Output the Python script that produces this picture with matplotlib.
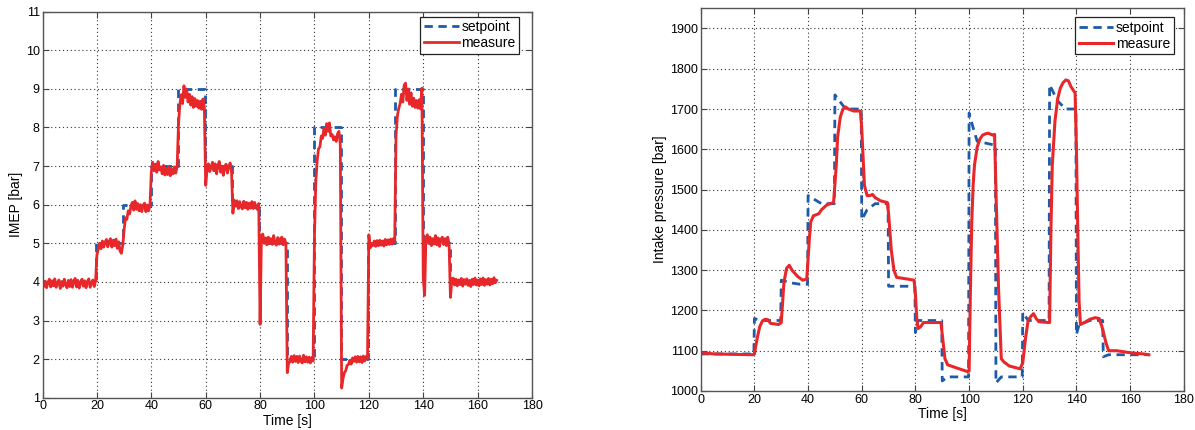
import numpy as np
import matplotlib
matplotlib.use('Agg')
import matplotlib.pyplot as plt

plt.rcParams['font.family'] = ['Liberation Sans', 'DejaVu Sans']

# IMEP setpoint (steps)
imep_sp_time = [0, 19.75, 29.75, 39.75, 49.75, 59.75, 69.75, 79.75, 89.75, 99.75, 109.75, 119.75, 129.75, 139.75, 149.75, 167]
imep_sp_value = [4, 5, 6, 7, 9, 7, 6, 5, 2, 8, 2, 5, 9, 5, 4, 4]

# IMEP measure, sampled every 0.5 s, one row per 10 s
imep_meas_rows = [
    [4.06, 3.88, 4.02, 3.85, 3.99, 4.07, 3.87, 4.03, 3.90, 4.08, 3.86, 3.97, 4.05, 3.83, 4.01, 3.89, 4.07, 3.92, 3.85, 4.04],
    [3.88, 4.06, 3.86, 4.02, 4.09, 3.87, 4.04, 3.84, 3.99, 4.07, 3.89, 4.03, 3.85, 4.01, 4.08, 3.86, 3.98, 4.05, 3.88, 4.02],
    [4.70, 4.85, 5.00, 4.86, 5.06, 4.90, 5.03, 5.10, 4.91, 5.05, 5.12, 4.90, 5.08, 4.94, 5.11, 4.87, 5.04, 4.80, 4.74, 4.95],
    [5.35, 5.66, 5.62, 5.84, 5.76, 5.96, 6.06, 5.86, 6.10, 5.88, 6.03, 5.84, 6.00, 5.82, 5.98, 6.04, 5.82, 5.99, 5.84, 5.97],
    [6.85, 7.10, 6.88, 7.05, 6.84, 7.12, 6.90, 6.98, 6.80, 7.02, 6.77, 6.94, 6.78, 6.97, 6.75, 6.93, 6.80, 6.98, 6.82, 7.00],
    [8.10, 8.60, 8.85, 8.62, 9.08, 8.78, 9.00, 8.66, 8.86, 8.58, 8.80, 8.52, 8.75, 8.55, 8.70, 8.50, 8.68, 8.47, 8.74, 8.52],
    [6.50, 6.90, 7.06, 6.86, 6.98, 7.10, 6.88, 7.06, 6.80, 7.02, 7.12, 6.84, 7.00, 6.76, 6.98, 7.05, 6.82, 7.00, 7.08, 6.86],
    [5.78, 6.12, 5.96, 6.10, 5.90, 6.08, 5.95, 5.89, 6.09, 5.92, 6.06, 5.88, 6.04, 5.91, 6.08, 5.90, 6.06, 5.92, 5.88, 6.03],
    [2.90, 5.20, 5.24, 5.00, 5.14, 4.96, 5.16, 4.99, 5.12, 4.97, 5.20, 5.00, 4.95, 5.15, 4.98, 5.12, 5.16, 4.96, 5.11, 5.00],
    [1.65, 1.90, 1.93, 2.07, 1.92, 2.09, 1.94, 2.07, 1.91, 2.08, 1.95, 1.90, 2.10, 1.93, 2.06, 1.92, 2.05, 1.90, 2.04, 1.95],
    [5.20, 6.60, 7.15, 7.45, 7.50, 7.78, 7.72, 7.98, 7.80, 8.10, 7.90, 8.12, 7.78, 7.82, 7.68, 7.76, 7.64, 7.84, 7.90, 7.55],
    [1.25, 1.50, 1.65, 1.70, 1.84, 1.86, 1.97, 1.87, 2.03, 1.94, 2.06, 1.92, 2.07, 1.93, 2.06, 1.91, 2.08, 1.95, 2.07, 2.02],
    [5.22, 4.88, 5.00, 4.94, 5.06, 4.92, 5.07, 4.94, 5.08, 4.95, 5.06, 4.93, 5.10, 4.96, 5.09, 4.97, 5.11, 4.98, 5.12, 5.03],
    [7.80, 8.30, 8.50, 8.62, 8.86, 8.66, 9.10, 9.15, 8.70, 9.00, 8.60, 8.90, 8.55, 8.76, 8.52, 8.70, 8.50, 8.72, 8.48, 9.02],
    [4.10, 3.65, 5.15, 5.22, 5.00, 5.16, 4.94, 5.12, 4.98, 5.20, 4.96, 5.14, 4.92, 5.10, 5.16, 4.97, 5.12, 4.94, 5.16, 4.98],
    [3.60, 4.02, 4.10, 3.92, 4.07, 3.90, 4.05, 3.93, 4.09, 3.89, 4.06, 3.94, 4.08, 3.91, 4.04, 3.88, 4.07, 3.93, 4.10, 3.92],
    [4.05, 3.90, 4.08, 3.93, 4.10, 3.91, 4.06, 3.94, 4.09, 3.92, 4.07, 3.95, 4.11, 3.98, 4.04],
]

# intake pressure setpoint
press_sp_time = [0, 19.8, 20, 22, 29.8, 30, 34, 37, 39.8, 40, 45, 49.8, 50, 54, 59.8, 60, 62, 65, 69.8, 70,
                 79.8, 80, 81, 89.8, 90, 92, 99.8, 100, 101, 103, 109.8, 110, 112, 119.8, 120, 122, 129.8,
                 130, 133, 136, 139.8, 140, 141, 145, 149.8, 150, 152, 167]
press_sp_value = [1092, 1092, 1180, 1175, 1175, 1275, 1268, 1265, 1265, 1485, 1465, 1465, 1735, 1700, 1700, 1425, 1450, 1465, 1465, 1260,
                  1260, 1145, 1175, 1175, 1025, 1035, 1035, 1690, 1665, 1620, 1610, 1020, 1035, 1035, 1195, 1175, 1175,
                  1760, 1720, 1700, 1700, 1140, 1165, 1175, 1175, 1085, 1090, 1090]

# intake pressure measure
press_meas_time = [0, 5, 19.5, 20, 21, 22, 23, 24, 25, 26, 29, 30, 31, 32, 33, 34, 36, 38, 39.5, 40.5, 41, 42, 44, 45, 47,
                   49.5, 50.5, 51, 52, 53, 54, 55, 57, 59.5, 60, 61, 62, 63, 64, 65, 67, 69.5, 70, 71, 72, 73, 75,
                   77, 79.5, 80, 80.5, 81, 82, 83, 86, 89.5, 90, 91, 92, 95, 99.5, 100, 100.5, 101, 101.5, 102, 103, 104,
                   105, 106, 107, 109, 109.5, 110, 111, 112, 113, 115, 119, 120, 121, 122, 123, 124, 125, 126, 129.5,
                   130, 130.5, 131, 132, 133, 134, 135, 136, 137, 138, 139, 139.5, 140, 140.5, 141, 141.5, 143, 145,
                   147, 148.5, 149.5, 151, 152, 155, 160, 165, 167]
press_meas_value = [1095, 1092, 1090, 1092, 1130, 1160, 1174, 1178, 1177, 1168, 1165, 1170, 1270, 1305, 1312, 1300, 1285, 1275, 1278, 1380, 1420, 1435, 1440, 1450, 1462,
                    1468, 1560, 1630, 1680, 1700, 1705, 1700, 1695, 1695, 1650, 1510, 1485, 1485, 1488, 1480, 1472, 1468, 1440, 1350, 1300, 1282, 1280,
                    1278, 1275, 1240, 1180, 1155, 1160, 1170, 1170, 1170, 1140, 1080, 1065, 1058, 1048, 1050, 1250, 1420, 1510, 1560, 1605, 1625,
                    1635, 1638, 1640, 1635, 1637, 1500, 1250, 1080, 1072, 1062, 1055, 1070, 1130, 1175, 1185, 1192, 1180, 1172, 1170,
                    1170, 1400, 1560, 1670, 1725, 1752, 1765, 1772, 1770, 1755, 1745, 1740, 1600, 1400, 1220, 1165, 1170, 1178,
                    1182, 1180, 1160, 1120, 1100, 1100, 1095, 1092, 1090]

imep_meas = np.concatenate([np.array(r) for r in imep_meas_rows])
imep_time = np.arange(len(imep_meas)) * 0.5

red = '#e8272a'
blue = '#1d5aa8'


def style_axes(ax, anchor):
    ax.grid(True, linestyle=(0, (1, 2.5)), color='#333333', linewidth=0.8)
    ax.tick_params(direction='in', top=True, right=True, labelsize=9, length=4,
                   color='#444444', pad=2)
    for s in ax.spines.values():
        s.set_color('#555555')
        s.set_linewidth(1.0)
    ax.set_xlim(0, 180)
    ax.set_xticks(range(0, 181, 20))
    ax.set_xlabel('Time [s]', fontsize=10, labelpad=1)
    leg = ax.legend(loc='upper right', bbox_to_anchor=anchor, fontsize=10, handlelength=2.5,
                    fancybox=False, framealpha=1, borderpad=0.25, labelspacing=0.15,
                    handletextpad=0.2, borderaxespad=0)
    leg.get_frame().set_edgecolor('#222222')
    leg.get_frame().set_linewidth(0.9)


fig = plt.figure(figsize=(11.95, 4.3), dpi=100)

ax1 = fig.add_axes([0.0356, 0.0751, 0.4096, 0.8977])
ax1.step(imep_sp_time, imep_sp_value, where='post', color=blue, linestyle=(0, (3, 2)),
         linewidth=2, label='setpoint')
ax1.plot(imep_time, imep_meas, color=red, linewidth=2.0, label='measure')
ax1.set_ylim(1, 11)
ax1.set_yticks(range(1, 12))
ax1.set_ylabel('IMEP [bar]', fontsize=10, labelpad=2)
style_axes(ax1, (1 - 13 / 490, 1 - 5 / 386))

ax2 = fig.add_axes([0.5864, 0.0907, 0.4042, 0.8900])
ax2.plot(press_sp_time, press_sp_value, color=blue, linestyle=(0, (3, 2)),
         linewidth=2, label='setpoint')
ax2.plot(press_meas_time, press_meas_value, color=red, linewidth=2.2, label='measure')
ax2.set_ylim(1000, 1950)
ax2.set_yticks(range(1000, 1901, 100))
ax2.set_ylabel('Intake pressure [bar]', fontsize=10, labelpad=2)
style_axes(ax2, (1 - 10 / 483, 1 - 9 / 383))

fig.savefig('out.png', dpi=100)
